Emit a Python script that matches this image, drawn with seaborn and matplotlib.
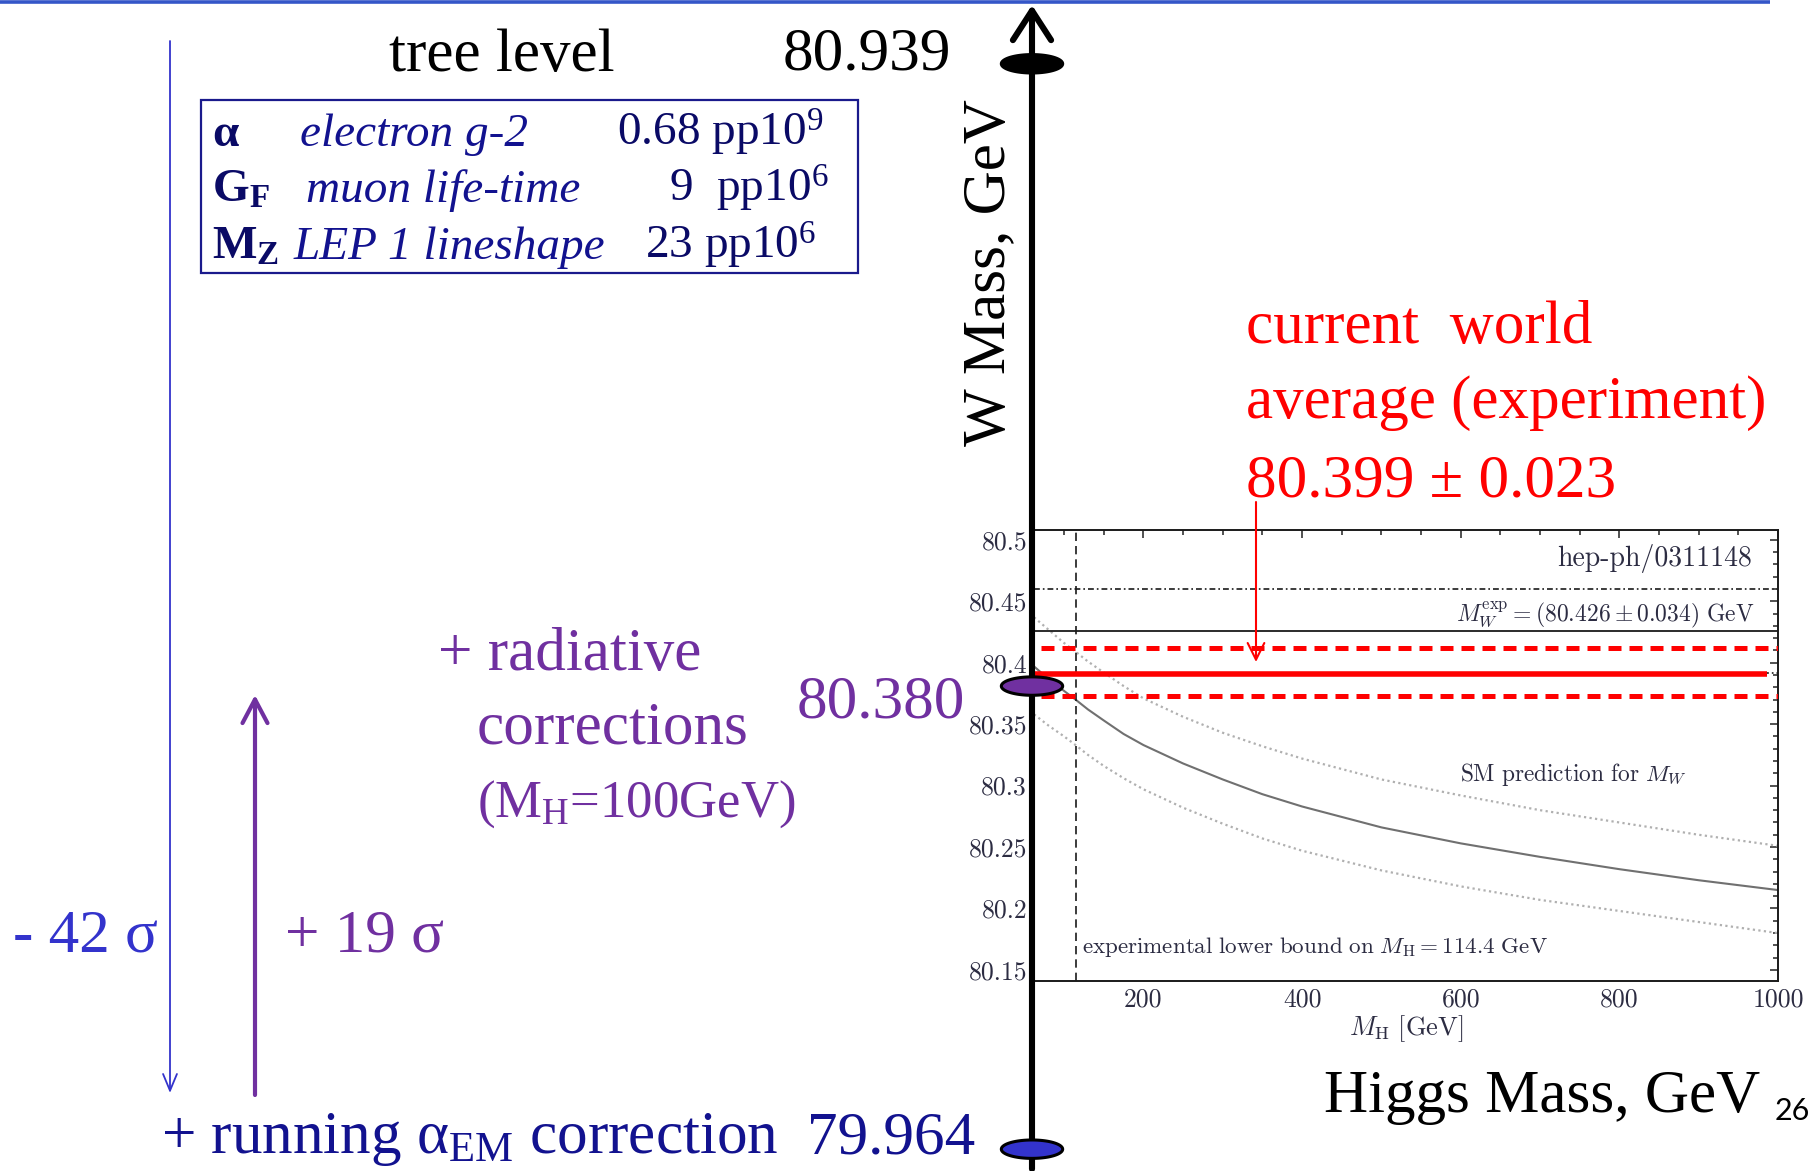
import numpy as np
import pandas as pd
import matplotlib
matplotlib.use("Agg")
import matplotlib.pyplot as plt
from matplotlib.path import Path
from matplotlib.patches import Rectangle
import seaborn as sns

# ---------------- data ----------------
level_names = ["tree level", "radiative corrections", "running alpha_EM"]
level_mw = [80.939, 80.380, 79.964]
level_colors = ["#000000", "#7030a0", "#3333cc"]

input_syms = [r"$\mathbf{α}$", r"$\mathbf{G_F}$", r"$\mathbf{M_Z}$"]
input_sources = ["electron g-2", "muon life-time", "LEP 1 lineshape"]
input_precisions = [r"0.68 pp10$^\mathrm{9}$", r"9  pp10$^\mathrm{6}$", r"23 pp10$^\mathrm{6}$"]

sigma_labels = ["- 42 σ", "+ 19 σ"]

wa_text = ["current  world", "average (experiment)", "80.399 ± 0.023"]
wa_drawn = [80.373, 80.391, 80.412]          # red lines as drawn: lower, centre, upper
mw_exp = 80.426
mw_exp_err = 0.034
mh_bound = 114.4

mh = [62, 80, 100, 114.4, 130, 150, 175, 200, 250, 300, 350, 400, 500, 600, 700, 800, 900, 1000]
mw_sm = [80.397, 80.387, 80.377, 80.370, 80.362, 80.353, 80.342, 80.333, 80.318, 80.305,
         80.293, 80.283, 80.266, 80.253, 80.242, 80.232, 80.223, 80.215]
mw_sm_hi = [80.437, 80.427, 80.416, 80.409, 80.401, 80.392, 80.381, 80.371, 80.356, 80.343,
            80.332, 80.322, 80.305, 80.292, 80.280, 80.270, 80.260, 80.251]
mw_sm_lo = [80.358, 80.349, 80.340, 80.333, 80.325, 80.316, 80.306, 80.297, 80.282, 80.269,
            80.257, 80.247, 80.231, 80.218, 80.207, 80.198, 80.189, 80.180]

x_ticks = [200, 400, 600, 800, 1000]
y_ticks = [80.15, 80.2, 80.25, 80.3, 80.35, 80.4, 80.45, 80.5]

# ---------------- style ----------------
sns.set_style("white")
plt.rcParams.update({
    "font.family": ["Liberation Serif", "DejaVu Serif"],
    "mathtext.fontset": "custom",
    "mathtext.rm": "Liberation Serif",
    "mathtext.it": "Liberation Serif:italic",
    "mathtext.bf": "Liberation Serif:bold",
    "axes.unicode_minus": False,
})

W, H = 1820, 1171
fig = plt.figure(figsize=(W / 100, H / 100), dpi=100)
fig.patch.set_facecolor("white")

PURPLE = "#7030a0"
BLUE = "#3333cc"
NAVY = "#12128f"
DNAVY = "#0a0a66"
RED = "#ff0000"
INK = "#2c2c42"
BIG = 44


def fp(x, y):
    return x / W, 1 - y / H


def txt(x, y, s, **kw):
    fx, fy = fp(x, y)
    kw.setdefault("fontsize", BIG)
    return fig.text(fx, fy, s, **kw)


# ---------------- inset (SM prediction plot) ----------------
ax_in = fig.add_axes([1034 / W, 1 - 981 / H, 744 / W, 451 / H])
ax_in.set_xlim(62, 1000)
ax_in.set_ylim(80.141, 80.508)

df = pd.DataFrame({"mh": mh, "central": mw_sm, "hi": mw_sm_hi, "lo": mw_sm_lo})
sns.lineplot(data=df, x="mh", y="hi", ax=ax_in, color="#b0b0b0", lw=1.6,
             linestyle=(0, (1, 1.5)))
sns.lineplot(data=df, x="mh", y="lo", ax=ax_in, color="#b0b0b0", lw=1.6,
             linestyle=(0, (1, 1.5)))
sns.lineplot(data=df, x="mh", y="central", ax=ax_in, color="#707070", lw=1.5)

ax_in.axhline(mw_exp, color="#1a1a1a", lw=1.3)
ax_in.axhline(mw_exp + mw_exp_err, color="#1a1a1a", lw=1.2,
              linestyle=(0, (3.5, 1.8, 1, 1.8)))
ax_in.axhline(mw_exp - mw_exp_err, color="#1a1a1a", lw=1.2,
              linestyle=(0, (3.5, 1.8, 1, 1.8)))
ax_in.axvline(mh_bound, color="#1a1a1a", lw=1.2, linestyle=(0, (5, 3)))

ax_in.axhline(wa_drawn[1], xmin=0, xmax=0.985, color=RED, lw=4.0,
              solid_capstyle="butt", zorder=5)
for v in (wa_drawn[0], wa_drawn[2]):
    ax_in.axhline(v, xmin=0.01, xmax=1, color=RED, lw=3.6,
                  linestyle=(0, (2.6, 1.6)), zorder=5)

ax_in.set_xticks(x_ticks)
ax_in.set_xticklabels([str(v) for v in x_ticks])
ax_in.set_xticks(np.arange(100, 1001, 50), minor=True)
ax_in.set_yticks(y_ticks)
ax_in.set_yticklabels([f"{v:g}" for v in y_ticks])
ax_in.set_yticks(np.arange(80.15, 80.505, 0.01), minor=True)
ax_in.tick_params(which="both", direction="in", top=True, right=True,
                  color="#222222", width=1.1)
ax_in.tick_params(which="major", length=6, labelsize=18.5, labelcolor=INK,
                  labelfontfamily="cmr10", pad=5)
ax_in.tick_params(which="minor", length=3.5)
for sp in ax_in.spines.values():
    sp.set_color("#1a1a1a")
    sp.set_linewidth(1.4)
ax_in.set_ylabel("")
ax_in.set_xlabel(r"$M_{\rm H}\ [\mathrm{GeV}]$", math_fontfamily="cm",
                 fontsize=19, color=INK, labelpad=1)

txt(1752, 566, "hep-ph/0311148", ha="right", fontfamily="cmr10", fontsize=20, color=INK)
txt(1755, 621, rf"$M_W^{{\rm exp}} = ({mw_exp:.3f} \pm {mw_exp_err:.3f})\ \mathrm{{GeV}}$",
    ha="right", math_fontfamily="cm", fontsize=17, color=INK)
txt(1460, 781, r"$\mathrm{SM\ prediction\ for}\ M_W$", math_fontfamily="cm",
    fontsize=16.8, color=INK)
txt(1082, 953, rf"$\mathrm{{experimental\ lower\ bound\ on}}\ M_{{\rm H}} = {mh_bound}\ \mathrm{{GeV}}$",
    math_fontfamily="cm", fontsize=16.6, color=INK)

# ---------------- overlay (schematic W-mass axis) ----------------
ax = fig.add_axes([0, 0, 1, 1])

AX_X = 1032

# top blue rule
ax.plot([0, 1770 / W], [1 - 1.5 / H] * 2, transform=ax.transAxes, color="#3456c8",
        lw=2.6, solid_capstyle="butt", clip_on=False)

# big vertical axis with arrow
ax.annotate("", xy=(AX_X, H - 5), xytext=(AX_X, H - 1169),
            xycoords="figure pixels", textcoords="figure pixels",
            arrowprops=dict(arrowstyle="->,head_length=0.85,head_width=0.55",
                            lw=4.4, color="black", mutation_scale=25,
                            shrinkA=0, shrinkB=0), zorder=4)

# ellipse markers on the axis
t = np.linspace(0, 2 * np.pi, 120)
ellipse = Path(np.column_stack([np.cos(t), 0.30 * np.sin(t)]), closed=True)
sns.scatterplot(x=[AX_X] * len(level_mw), y=level_mw, hue=level_names,
                palette=dict(zip(level_names, level_colors)), marker=ellipse,
                s=1950, edgecolor="black", linewidth=2.2, legend=False, ax=ax,
                zorder=6, clip_on=False)
ax.set_xlim(0, W)
ax.set_ylim(79.9444, 80.9963)
ax.set_axis_off()

# left arrows
ax.annotate("", xy=(170, H - 1093), xytext=(170, H - 41),
            xycoords="figure pixels", textcoords="figure pixels",
            arrowprops=dict(arrowstyle="->,head_length=0.6,head_width=0.25",
                            lw=1.3, color=BLUE, mutation_scale=20,
                            shrinkA=0, shrinkB=0))
ax.annotate("", xy=(255, H - 695), xytext=(255, H - 1095),
            xycoords="figure pixels", textcoords="figure pixels",
            arrowprops=dict(arrowstyle="->,head_length=0.85,head_width=0.45",
                            lw=3.0, color=PURPLE, mutation_scale=20,
                            shrinkA=0, shrinkB=0))
# red arrow
ax.annotate("", xy=(1256, H - 662), xytext=(1256, H - 502),
            xycoords="figure pixels", textcoords="figure pixels",
            arrowprops=dict(arrowstyle="->,head_length=0.6,head_width=0.3",
                            lw=1.5, color=RED, mutation_scale=20,
                            shrinkA=0, shrinkB=0), zorder=7)

# input box
bx0, by0 = fp(201, 273)
ax.add_patch(Rectangle((bx0, by0), 657 / W, 173 / H, transform=ax.transAxes,
                       fill=False, ec="#1a1a8c", lw=1.6))
row_base = [146, 202, 259]
src_x = [300, 306, 294]
prec_x = [617, 669, 645]
for i in range(3):
    txt(212, row_base[i], input_syms[i], fontsize=34, color=DNAVY)
    txt(src_x[i], row_base[i], input_sources[i], fontsize=34, color=NAVY, style="italic")
    txt(prec_x[i], row_base[i], input_precisions[i], fontsize=34, color=DNAVY)

# main labels
txt(502, 71, level_names[0], ha="center", color="black")
txt(951, 70, f"{level_mw[0]:.3f}", ha="right", color="black")
txt(438, 670, "+ radiative", color=PURPLE)
txt(477, 743, "corrections", color=PURPLE)
txt(477, 817, r"(M$_\mathrm{H}$=100GeV)", color=PURPLE, fontsize=38)
txt(965, 718, f"{level_mw[1]:.3f}", ha="right", color=PURPLE)
txt(161, 1153, r"+ running $\mathrm{α}_\mathrm{EM}$ correction", color=NAVY)
txt(975, 1153, f"{level_mw[2]:.3f}", ha="right", color=NAVY)
txt(13, 952, sigma_labels[0], color=BLUE)
txt(285, 952, sigma_labels[1], color=PURPLE)

fx, fy = fp(989, 273)
fig.text(fx, fy, "W Mass, GeV", rotation=90, ha="center", va="center",
         fontsize=BIG, color="black")

txt(1246, 343, wa_text[0], color=RED)
txt(1246, 418, wa_text[1], color=RED)
txt(1246, 497, wa_text[2], color=RED)

txt(1324, 1112, "Higgs Mass, GeV", color="black")
txt(1775, 1120, "26", fontfamily="Lato", fontsize=22, color="black")

fig.savefig("out.png", dpi=100)
